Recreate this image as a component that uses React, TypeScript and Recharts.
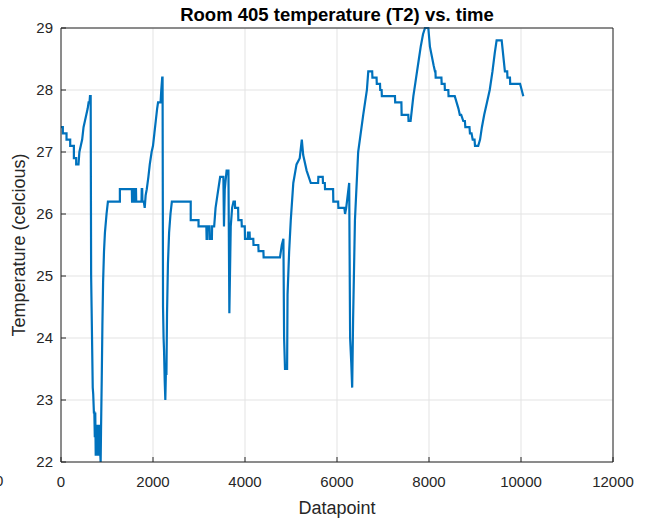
import { LineChart, Line, XAxis, YAxis, CartesianGrid } from "recharts";

// datapoint index (x) and T2 reading (y)
const datapoints = [
  0, 40, 40, 120, 120, 200, 200, 280, 280, 330, 330, 380, 400, 430, 460, 490, 520, 550, 580, 600, 620, 630, 645,
  655, 665, 690, 700, 715, 725, 735, 745, 755, 765, 775, 785, 795, 805, 815, 825, 835, 845, 855, 862, 870,
  885, 900, 915, 935, 955, 990, 1020, 1280, 1280, 1540, 1545, 1560, 1565, 1580, 1585, 1600, 1605, 1630, 1635,
  1750, 1755, 1765, 1770, 1800, 1820, 1840, 1865, 1900, 1930, 1970, 2000, 2030, 2060, 2090, 2110, 2165, 2180,
  2200, 2208, 2218, 2230, 2240, 2255, 2268, 2282, 2292, 2305, 2325, 2350, 2380, 2410, 2820, 2820, 2990, 2990,
  3160, 3165, 3180, 3185, 3230, 3235, 3280, 3285, 3330, 3360, 3400, 3440, 3460, 3530, 3543, 3560, 3600, 3640,
  3660, 3690, 3720, 3750, 3780, 3785, 3850, 3855, 3925, 3930, 3995, 4000, 4060, 4065, 4100, 4105, 4180, 4185,
  4290, 4295, 4400, 4405, 4760, 4800, 4835, 4850, 4870, 4915, 4925, 4960, 4995, 5050, 5120, 5190, 5235, 5265,
  5340, 5430, 5590, 5595, 5690, 5695, 5735, 5740, 5915, 5920, 6025, 6030, 6160, 6175, 6200, 6265, 6285, 6310,
  6330, 6350, 6390, 6460, 6570, 6610, 6650, 6680, 6765, 6770, 6860, 6865, 6935, 6940, 6970, 6975, 7260, 7265,
  7400, 7405, 7550, 7555, 7600, 7630, 7660, 7700, 7740, 7780, 7820, 7870, 7913, 7985, 8020, 8100, 8130, 8140,
  8145, 8270, 8275, 8340, 8345, 8420, 8425, 8560, 8600, 8640, 8670, 8700, 8745, 8780, 8790, 8880, 8890, 8925,
  8950, 8990, 9000, 9070, 9110, 9150, 9200, 9260, 9320, 9380, 9430, 9470, 9580, 9650, 9700, 9705, 9760, 9765,
  9830, 9835, 9980, 10015, 10050,
];

const temperatures = [
  27.4, 27.4, 27.3, 27.3, 27.2, 27.2, 27.1, 27.1, 26.9, 26.9, 26.8, 26.8, 27.0, 27.1, 27.2, 27.4, 27.5, 27.6, 27.7, 27.8, 27.8, 27.9, 27.9,
  25.0, 24.5, 23.2, 23.1, 22.8, 22.8, 22.4, 22.8, 22.1, 22.6, 22.1, 22.5, 22.1, 22.6, 22.2, 22.6, 22.1, 22.5, 22.1, 22.0, 22.5,
  23.3, 24.2, 24.9, 25.4, 25.7, 26.0, 26.2, 26.2, 26.4, 26.4, 26.2, 26.2, 26.4, 26.4, 26.2, 26.2, 26.4, 26.4, 26.2,
  26.2, 26.4, 26.4, 26.2, 26.2, 26.1, 26.3, 26.4, 26.6, 26.8, 27.0, 27.1, 27.3, 27.5, 27.7, 27.8, 27.8, 28.0,
  28.2, 28.2, 24.5, 24.0, 23.8, 23.3, 23.0, 23.5, 23.4, 24.4, 25.2, 25.7, 26.0, 26.2, 26.2, 25.9, 25.9, 25.8,
  25.8, 25.6, 25.6, 25.8, 25.8, 25.6, 25.6, 25.8, 25.8, 26.1, 26.3, 26.5, 26.6, 26.6, 25.8, 26.4, 26.7, 26.7,
  24.4, 25.8, 26.1, 26.2, 26.2, 26.1, 26.1, 25.9, 25.9, 25.8, 25.8, 25.6, 25.6, 25.7, 25.7, 25.6, 25.6, 25.5,
  25.5, 25.4, 25.4, 25.3, 25.3, 25.5, 25.6, 24.0, 23.5, 23.5, 24.7, 25.4, 25.9, 26.5, 26.8, 26.9, 27.2, 26.95,
  26.7, 26.5, 26.5, 26.6, 26.6, 26.5, 26.5, 26.4, 26.4, 26.2, 26.2, 26.1, 26.1, 26.0, 26.1, 26.5, 24.0, 23.6,
  23.2, 24.3, 25.9, 27.0, 27.6, 27.8, 28.0, 28.3, 28.3, 28.2, 28.2, 28.1, 28.1, 28.0, 28.0, 27.9, 27.9, 27.8,
  27.8, 27.6, 27.6, 27.5, 27.5, 27.7, 27.9, 28.1, 28.3, 28.5, 28.7, 28.9, 29.0, 29.0, 28.7, 28.4, 28.3, 28.3,
  28.2, 28.2, 28.1, 28.1, 28.0, 28.0, 27.9, 27.9, 27.8, 27.7, 27.6, 27.6, 27.5, 27.5, 27.4, 27.4, 27.3, 27.3,
  27.2, 27.2, 27.1, 27.1, 27.2, 27.4, 27.6, 27.8, 28.0, 28.3, 28.6, 28.8, 28.8, 28.3, 28.3, 28.2, 28.2, 28.1,
  28.1, 28.1, 28.1, 28.0, 27.9,
];

const xTicks = [0, 2000, 4000, 6000, 8000, 10000, 12000];
const yTicks = [22, 23, 24, 25, 26, 27, 28, 29];

const data = datapoints.map((x, i) => ({ x, t2: temperatures[i] }));

const font = "'Liberation Sans', Arial, Helvetica, sans-serif";
const axisColor = "#262626";
const tickStyle = { fontSize: 15, fill: axisColor, fontFamily: font };

export default function App() {
  return (
    <div style={{ position: "absolute", left: 0, top: 0, width: 650, height: 521, overflow: "hidden", background: "white" }}>
      <LineChart width={650} height={521} data={data} margin={{ top: 0, right: 0, bottom: 0, left: 0 }}>
        <CartesianGrid stroke="#e3e3e3" strokeWidth={1} />
        <XAxis
          dataKey="x"
          type="number"
          domain={[0, 12000]}
          ticks={xTicks}
          height={59}
          stroke={axisColor}
          tickSize={-5}
          tickMargin={19}
          tick={tickStyle}
          interval={0}
          label={{ value: "Datapoint", position: "insideBottom", offset: 7, style: { fontSize: 18, fill: axisColor, fontFamily: font } }}
        />
        <XAxis
          xAxisId="top"
          orientation="top"
          type="number"
          domain={[0, 12000]}
          ticks={xTicks}
          height={28}
          stroke={axisColor}
          tickSize={-5}
          tick={false}
          label={{ value: "Room 405 temperature (T2) vs. time", position: "center", style: { fontSize: 18.5, fontWeight: 700, fill: "#000", fontFamily: font } }}
        />
        <YAxis
          type="number"
          domain={[22, 29]}
          ticks={yTicks}
          width={61}
          stroke={axisColor}
          tickSize={-5}
          tickMargin={13}
          tick={tickStyle}
          interval={0}
          label={{ value: "Temperature (celcious)", angle: -90, position: "insideLeft", offset: 19, style: { textAnchor: "middle", fontSize: 18, fill: axisColor, fontFamily: font } }}
        />
        <YAxis
          yAxisId="right"
          orientation="right"
          type="number"
          domain={[22, 29]}
          ticks={yTicks}
          width={37}
          stroke={axisColor}
          tickSize={-5}
          tick={false}
        />
        <Line
          type="linear"
          dataKey="t2"
          stroke="#0072BD"
          strokeWidth={2.2}
          dot={false}
          isAnimationActive={false}
        />
      </LineChart>
      <span style={{ position: "absolute", left: -5, top: 472, fontSize: 15, color: axisColor, fontFamily: font, lineHeight: "17px" }}>0</span>
    </div>
  );
}
